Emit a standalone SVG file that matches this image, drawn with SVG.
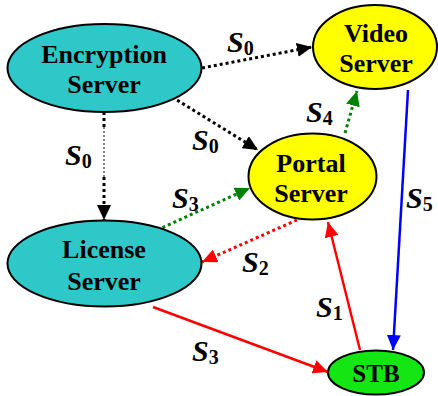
<svg xmlns="http://www.w3.org/2000/svg" width="438" height="396" viewBox="0 0 438 396" font-family="'Liberation Serif', 'Times New Roman', Times, 'DejaVu Serif', serif">
  <style>
    .node ellipse { stroke: #000; stroke-width: 2; }
    .cyan { fill: #2EC8C8; }
    .yellow { fill: #FFFF00; }
    .lime { fill: #14E614; }
    .name { font-size: 26px; font-weight: bold; text-anchor: middle; fill: #000; }
    .lbl { font-size: 30px; font-weight: bold; fill: #000; }
    .lbl .s { font-style: italic; }
    .lbl .sub { font-size: 20px; font-style: normal; }
    .dot { fill: none; stroke-width: 3; stroke-dasharray: 3 3; }
    .solid { fill: none; stroke-width: 2.5; }
  </style>
  <defs>
    <marker id="ah-black" markerUnits="userSpaceOnUse" markerWidth="16" markerHeight="14" refX="15" refY="7" orient="auto"><path d="M0,0 L15,7 L0,14 Z" fill="#000"/></marker>
    <marker id="ah-green" markerUnits="userSpaceOnUse" markerWidth="16" markerHeight="14" refX="15" refY="7" orient="auto"><path d="M0,0 L15,7 L0,14 Z" fill="#008000"/></marker>
    <marker id="ah-red" markerUnits="userSpaceOnUse" markerWidth="16" markerHeight="14" refX="15" refY="7" orient="auto"><path d="M0,0 L15,7 L0,14 Z" fill="#FF0000"/></marker>
    <marker id="ah-blue" markerUnits="userSpaceOnUse" markerWidth="16" markerHeight="14" refX="15" refY="7" orient="auto"><path d="M0,0 L15,7 L0,14 Z" fill="#0000FF"/></marker>
  </defs>

  <g id="connectors">
    <!-- Encryption -> Video -->
    <line class="dot" stroke="#000" x1="202" y1="68" x2="312" y2="47" marker-end="url(#ah-black)"/>
    <!-- Encryption -> Portal -->
    <line class="dot" stroke="#000" x1="172" y1="97" x2="258" y2="150" marker-end="url(#ah-black)"/>
    <!-- Encryption -> License -->
    <line class="dot" stroke="#000" x1="104" y1="112" x2="104" y2="127"/>
    <line stroke="#000" stroke-width="1" stroke-dasharray="2 2" x1="104" y1="127" x2="104" y2="177"/>
    <line class="dot" stroke="#000" x1="104" y1="177" x2="104" y2="220" marker-end="url(#ah-black)"/>
    <!-- License -> Portal -->
    <line class="dot" stroke="#008000" x1="157" y1="230" x2="250" y2="188" marker-end="url(#ah-green)"/>
    <!-- Portal -> License -->
    <line class="dot" stroke="#FF0000" x1="297" y1="220" x2="202" y2="262" marker-end="url(#ah-red)"/>
    <!-- Portal -> Video -->
    <line class="dot" stroke="#008000" x1="345" y1="133" x2="357" y2="91" marker-end="url(#ah-green)"/>
    <!-- Video -> STB -->
    <line class="solid" stroke="#0000FF" x1="408" y1="90" x2="393" y2="350" marker-end="url(#ah-blue)"/>
    <!-- STB -> Portal -->
    <line class="solid" stroke="#FF0000" x1="360" y1="350" x2="328" y2="222" marker-end="url(#ah-red)"/>
    <!-- License -> STB -->
    <line class="solid" stroke="#FF0000" x1="153" y1="307" x2="328" y2="372" marker-end="url(#ah-red)"/>
  </g>

  <g id="labels">
    <text class="lbl" x="227" y="52"><tspan class="s">S</tspan><tspan class="sub" dy="3">0</tspan></text>
    <text class="lbl" x="65" y="165"><tspan class="s">S</tspan><tspan class="sub" dy="3">0</tspan></text>
    <text class="lbl" x="192" y="150"><tspan class="s">S</tspan><tspan class="sub" dy="3">0</tspan></text>
    <text class="lbl" x="306" y="122"><tspan class="s">S</tspan><tspan class="sub" dy="3">4</tspan></text>
    <text class="lbl" x="172" y="208"><tspan class="s">S</tspan><tspan class="sub" dy="3">3</tspan></text>
    <text class="lbl" x="242" y="272"><tspan class="s">S</tspan><tspan class="sub" dy="3">2</tspan></text>
    <text class="lbl" x="406" y="208"><tspan class="s">S</tspan><tspan class="sub" dy="3">5</tspan></text>
    <text class="lbl" x="316" y="317"><tspan class="s">S</tspan><tspan class="sub" dy="3">1</tspan></text>
    <text class="lbl" x="192" y="361"><tspan class="s">S</tspan><tspan class="sub" dy="3">3</tspan></text>
  </g>

  <g id="encryption-server" class="node">
    <ellipse class="cyan" cx="104.5" cy="68" rx="97" ry="44"/>
    <text class="name" x="104" y="63">Encryption</text>
    <text class="name" x="104" y="93">Server</text>
  </g>
  <g id="video-server" class="node">
    <ellipse class="yellow" cx="375" cy="47" rx="62" ry="42"/>
    <text class="name" x="376" y="42">Video</text>
    <text class="name" x="376" y="72">Server</text>
  </g>
  <g id="portal-server" class="node">
    <ellipse class="yellow" cx="312.5" cy="176.5" rx="64" ry="43"/>
    <text class="name" x="311" y="172">Portal</text>
    <text class="name" x="311" y="202">Server</text>
  </g>
  <g id="license-server" class="node">
    <ellipse class="cyan" cx="104.5" cy="263.5" rx="97" ry="43"/>
    <text class="name" x="104" y="258">License</text>
    <text class="name" x="104" y="290">Server</text>
  </g>
  <g id="stb" class="node">
    <ellipse class="lime" cx="376" cy="372.5" rx="48" ry="22"/>
    <text class="name" x="376" y="382" style="font-size:25px">STB</text>
  </g>
</svg>
